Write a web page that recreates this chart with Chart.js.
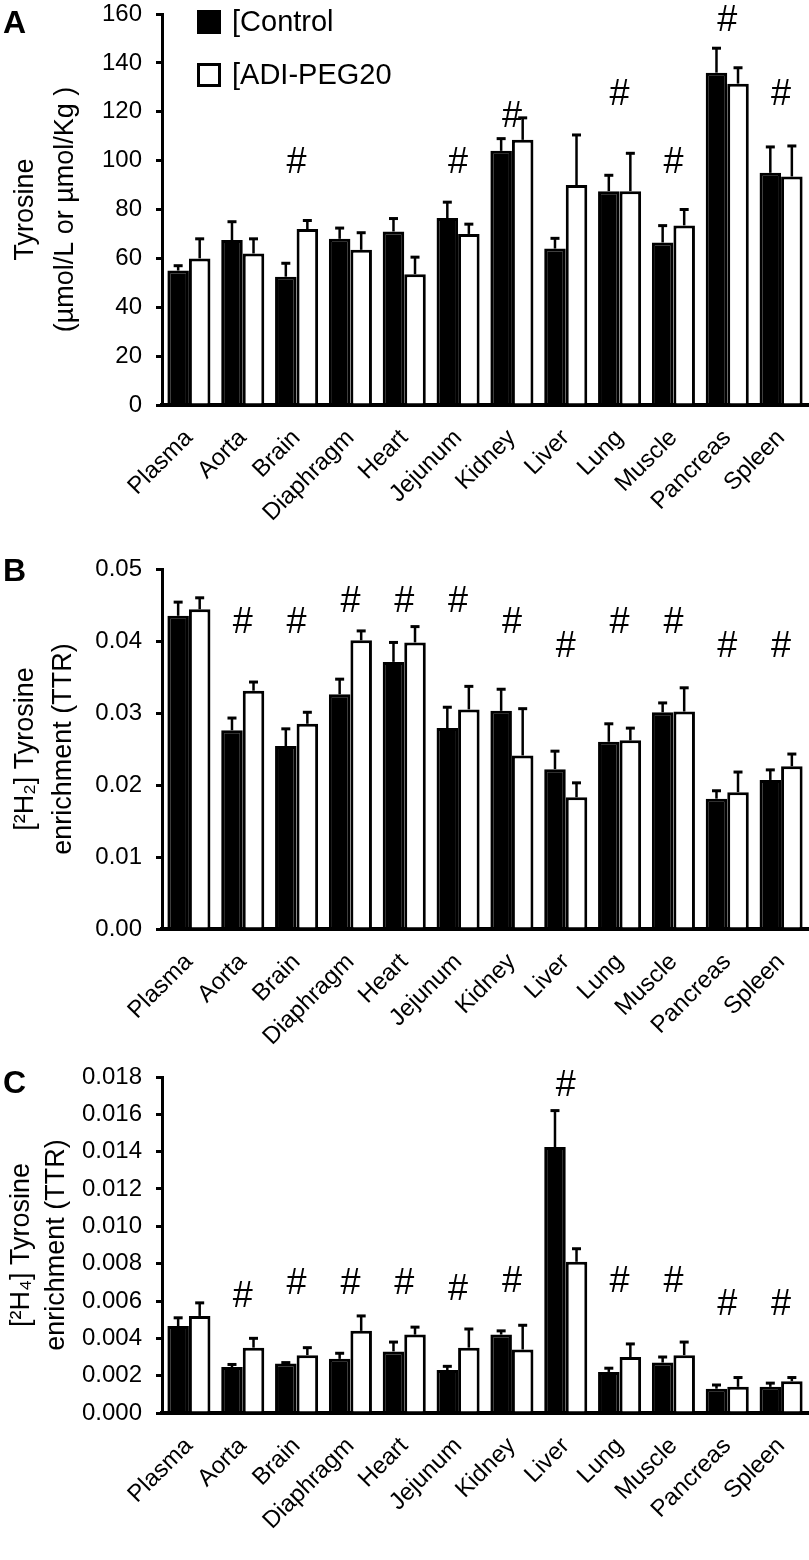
<!DOCTYPE html>
<html lang="en">
<head>
<meta charset="UTF-8">
<title>Tyrosine in tissues</title>
<script src="https://cdn.jsdelivr.net/npm/chart.js"></script>
<style>
  body { margin: 0; background: #fff; }
  .panel { position: relative; width: 809px; }
</style>
</head>
<body>
<div class="panel" style="height:528px"><canvas id="chartA"></canvas></div>
<div class="panel" style="height:517px"><canvas id="chartB"></canvas></div>
<div class="panel" style="height:515px"><canvas id="chartC"></canvas></div>
<script>
const organs = ['Plasma', 'Aorta', 'Brain', 'Diaphragm', 'Heart', 'Jejunum', 'Kidney', 'Liver', 'Lung', 'Muscle', 'Pancreas', 'Spleen'];
const seriesNames = ['[Control', '[ADI-PEG20'];

// A: tyrosine concentration
const controlA = [55, 67.5, 52.5, 68, 71, 76.5, 104, 64, 87.5, 66.5, 136, 95];
const controlA_se = [2, 7.5, 5.5, 4.4, 5.3, 6.5, 5, 4.2, 6.5, 6.9, 10, 10.6];
const adiA = [60, 62, 72, 63.5, 53.5, 70, 108.5, 90, 87.5, 73.5, 131.5, 93.5];
const adiA_se = [8, 6, 3.5, 7, 7, 4, 9, 20.5, 15.5, 6.5, 6.5, 12.5];
const hashA = [null, null, 99, null, null, 99, 118, null, 127, 99, 157, 127];
const ticksA = [0, 160, 20];

// B: [2H2] tyrosine enrichment
const controlB = [0.0435, 0.0276, 0.0254, 0.0326, 0.0371, 0.0279, 0.0303, 0.0222, 0.0260, 0.0301, 0.0181, 0.0207];
const controlB_se = [0.0019, 0.0017, 0.0024, 0.0021, 0.0027, 0.0029, 0.0030, 0.0025, 0.0025, 0.0013, 0.0011, 0.0014];
const adiB = [0.0444, 0.0331, 0.0285, 0.0401, 0.0398, 0.0305, 0.0241, 0.0183, 0.0262, 0.0302, 0.0190, 0.0226];
const adiB_se = [0.0016, 0.0012, 0.0016, 0.0013, 0.0022, 0.0032, 0.0065, 0.0020, 0.0017, 0.0033, 0.0028, 0.0017];
const hashB = [null, 0.0425, 0.0425, 0.0454, 0.0454, 0.0454, 0.0425, 0.0392, 0.0425, 0.0425, 0.0392, 0.0392];
const ticksB = [0, 0.05, 0.01];

// C: [2H4] tyrosine enrichment
const controlC = [0.00466, 0.00246, 0.00265, 0.0029, 0.0033, 0.0023, 0.0042, 0.01425, 0.0022, 0.0027, 0.0013, 0.0014];
const controlC_se = [0.00044, 0.00014, 0.00005, 0.0003, 0.0005, 0.0002, 0.0002, 0.00195, 0.0002, 0.0003, 0.0002, 0.0002];
const adiC = [0.0052, 0.0035, 0.0031, 0.0044, 0.0042, 0.0035, 0.0034, 0.0081, 0.0030, 0.0031, 0.0014, 0.0017];
const adiC_se = [0.0007, 0.0005, 0.0004, 0.0008, 0.0004, 0.0010, 0.0013, 0.0007, 0.0007, 0.0007, 0.0005, 0.0002];
const hashC = [null, 0.0062, 0.0069, 0.0069, 0.0069, 0.0066, 0.0070, 0.0175, 0.0070, 0.0070, 0.0058, 0.0058];
const ticksC = [0, 0.018, 0.002];

const FONT = '"Liberation Sans", Arial, Helvetica, sans-serif';

// error bars, # marks, panel letter and legend
const marksPlugin = {
  id: 'marks',
  afterDatasetsDraw(chart, args, opts) {
    const ctx = chart.ctx;
    const xs = chart.scales.x, ys = chart.scales.y;
    ctx.save();
    ctx.strokeStyle = '#000';
    ctx.fillStyle = '#000';
    opts.errors.forEach((se, di) => {
      const vals = chart.data.datasets[di].data;
      chart.getDatasetMeta(di).data.forEach((bar, i) => {
        const top = ys.getPixelForValue(vals[i]);
        const end = ys.getPixelForValue(vals[i] + se[i]);
        ctx.lineWidth = 2.5;
        ctx.beginPath(); ctx.moveTo(bar.x, top); ctx.lineTo(bar.x, end); ctx.stroke();
        ctx.lineWidth = 3;
        ctx.beginPath(); ctx.moveTo(bar.x - 4.5, end); ctx.lineTo(bar.x + 4.5, end); ctx.stroke();
      });
    });

    ctx.font = '36px ' + FONT;
    ctx.textAlign = 'center';
    ctx.textBaseline = 'middle';
    opts.hashes.forEach((h, i) => {
      if (h !== null) ctx.fillText('#', xs.getPixelForValue(i), ys.getPixelForValue(h));
    });

    ctx.font = 'bold 32px ' + FONT;
    ctx.textAlign = 'left';
    ctx.textBaseline = 'alphabetic';
    ctx.fillText(opts.letter, 3, opts.letterY);

    if (opts.legend) {
      const lg = opts.legend;
      ctx.font = '29px ' + FONT;
      ctx.textBaseline = 'middle';
      chart.data.datasets.forEach((ds, i) => {
        const y0 = lg.y + i * lg.gap;
        ctx.fillStyle = ds.backgroundColor;
        ctx.fillRect(lg.x, y0, lg.size, lg.size);
        ctx.lineWidth = 3;
        ctx.strokeRect(lg.x + 1.5, y0 + 1.5, lg.size - 3, lg.size - 3);
        ctx.fillStyle = '#000';
        ctx.fillText(ds.label, lg.x + lg.size + 11, y0 + lg.size / 2 + 1);
      });
    }
    ctx.restore();
  }
};

function makeChart(id, p) {
  return new Chart(document.getElementById(id), {
    type: 'bar',
    data: {
      labels: organs,
      datasets: [
        { label: seriesNames[0], data: p.control, backgroundColor: '#000', borderColor: '#000', borderWidth: 3, barPercentage: 1, categoryPercentage: 0.8 },
        { label: seriesNames[1], data: p.adi, backgroundColor: '#fff', borderColor: '#000', borderWidth: 3, barPercentage: 1, categoryPercentage: 0.8 }
      ]
    },
    options: {
      responsive: true,
      maintainAspectRatio: false,
      animation: false,
      layout: { padding: { top: p.padTop, right: 1, left: 0, bottom: 0 } },
      plugins: {
        legend: { display: false },
        tooltip: { enabled: false },
        marks: { errors: p.errors, hashes: p.hashes, letter: p.letter, letterY: p.letterY, legend: p.legend }
      },
      scales: {
        x: {
          z: 1,
          ticks: { font: { size: 24, family: FONT }, color: '#000', minRotation: 45, maxRotation: 45, padding: 11, autoSkip: false },
          grid: { display: false },
          border: { display: true, width: 4, color: '#000' },
          afterFit(s) { s.height = p.xHeight; s.paddingLeft = 0; s.paddingRight = 0; }
        },
        y: {
          min: p.ticks[0], max: p.ticks[1],
          ticks: { stepSize: p.ticks[2], font: { size: 24, family: FONT }, color: '#000', padding: 14, callback: v => v.toFixed(p.decimals) },
          grid: { drawOnChartArea: false, drawTicks: true, tickLength: 6, lineWidth: 3, color: '#000' },
          border: { display: true, width: 3, color: '#000' },
          title: { display: true, text: p.title, color: '#000', font: { size: 27, family: FONT, lineHeight: p.titleLH }, padding: { top: p.titlePad, bottom: 0 } },
          afterFit(s) { s.width = 162; s.paddingTop = 0; s.paddingBottom = 0; }
        }
      }
    },
    plugins: [marksPlugin]
  });
}

makeChart('chartA', {
  control: controlA, adi: adiA, errors: [controlA_se, adiA_se], hashes: hashA, ticks: ticksA, decimals: 0,
  title: ['Tyrosine', '(µmol/L or µmol/Kg )'], titleLH: 1.5, titlePad: 5,
  letter: 'A', letterY: 33, padTop: 14, xHeight: 123,
  legend: { x: 197, y: 10, gap: 53, size: 24 }
});
makeChart('chartB', {
  control: controlB, adi: adiB, errors: [controlB_se, adiB_se], hashes: hashB, ticks: ticksB, decimals: 2,
  title: ['[²H₂] Tyrosine', 'enrichment (TTR)'], titleLH: 1.42, titlePad: 6,
  letter: 'B', letterY: 53, padTop: 41, xHeight: 116
});
makeChart('chartC', {
  control: controlC, adi: adiC, errors: [controlC_se, adiC_se], hashes: hashC, ticks: ticksC, decimals: 3,
  title: ['[²H₄] Tyrosine', 'enrichment (TTR)'], titleLH: 1.3, titlePad: 4,
  letter: 'C', letterY: 48, padTop: 32, xHeight: 147
});
</script>
</body>
</html>
